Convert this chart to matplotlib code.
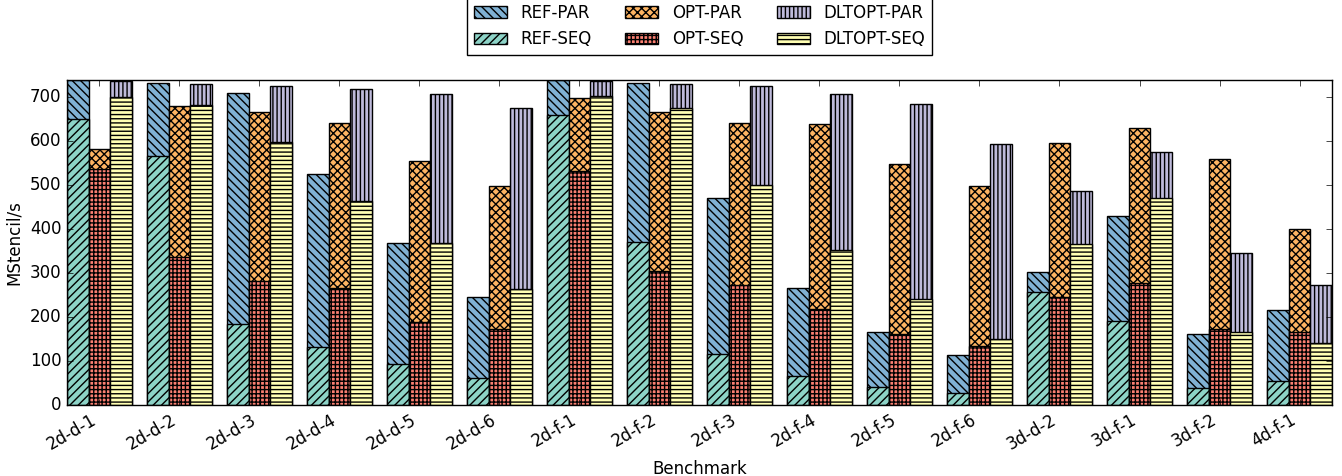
import numpy as np
import matplotlib
matplotlib.use('Agg')
import matplotlib.pyplot as plt

plt.style.use('classic')

benchmarks = ['2d-d-1', '2d-d-2', '2d-d-3', '2d-d-4', '2d-d-5', '2d-d-6',
              '2d-f-1', '2d-f-2', '2d-f-3', '2d-f-4', '2d-f-5', '2d-f-6',
              '3d-d-2', '3d-f-1', '3d-f-2', '4d-f-1']

ref_par = [739, 733, 709, 526, 369, 246, 739, 733, 471, 267, 166, 114, 303, 430, 161, 216]
ref_seq = [651, 567, 185, 133, 93, 61, 660, 371, 117, 67, 40, 28, 258, 191, 39, 54]
opt_par = [581, 679, 667, 642, 555, 497, 699, 667, 642, 638, 548, 497, 595, 629, 560, 401]
opt_seq = [537, 336, 281, 267, 189, 174, 532, 304, 274, 219, 161, 134, 245, 277, 174, 166]
dlt_par = [736, 730, 726, 719, 708, 676, 736, 730, 725, 708, 684, 593, 486, 576, 345, 273]
dlt_seq = [701, 682, 599, 463, 368, 264, 703, 676, 501, 352, 242, 151, 367, 470, 167, 140]

ind = np.arange(len(benchmarks))
w = 0.27

fig = plt.figure(figsize=(13.42, 4.76), dpi=100, facecolor='white')
ax = fig.add_subplot(111)
fig.subplots_adjust(left=0.0499, right=0.9925, bottom=0.149, top=0.832)

b1 = ax.bar(ind - w, ref_par, w, align='center', color='#80b1d3', hatch='\\\\\\\\', edgecolor='black', label='REF-PAR')
b2 = ax.bar(ind - w, ref_seq, w, align='center', color='#8dd3c7', hatch='////', edgecolor='black', label='REF-SEQ')
b3 = ax.bar(ind, opt_par, w, align='center', color='#fdb462', hatch='xxxx', edgecolor='black', label='OPT-PAR')
b4 = ax.bar(ind, opt_seq, w, align='center', color='#fb8072', hatch='++++', edgecolor='black', label='OPT-SEQ')
b5 = ax.bar(ind + w, dlt_par, w, align='center', color='#bebada', hatch='||||', edgecolor='black', label='DLTOPT-PAR')
b6 = ax.bar(ind + w, dlt_seq, w, align='center', color='#ffffb3', hatch='----', edgecolor='black', label='DLTOPT-SEQ')

ax.set_xlim(-1.5 * w, len(benchmarks) - 1 + 1.5 * w)
ax.set_ylim(0, 739)
ax.set_yticks(np.arange(0, 701, 100))
ax.set_xticks(ind)
ax.set_xticklabels(benchmarks, rotation=30, ha='right')
ax.set_xlabel('Benchmark')
ax.set_ylabel('MStencil/s')

ax.legend(handles=[b1, b2, b3, b4, b5, b6], ncol=3, loc='lower center',
          bbox_to_anchor=(0.5, 1.077), borderaxespad=0, fontsize=12)

fig.savefig('out.png', dpi=100, facecolor='white')
